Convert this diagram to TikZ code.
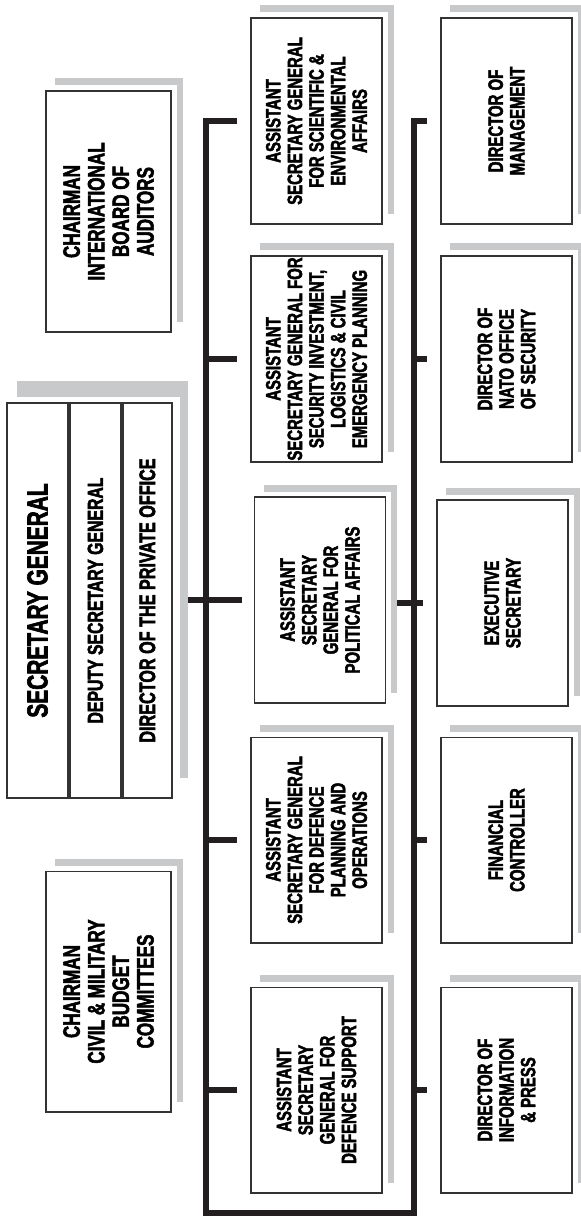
\documentclass[tikz,border=0pt]{standalone}
\usepackage{fontspec}
\newfontfamily\orgfont{Liberation Sans}[FakeStretch=0.72, UprightFont=*-Bold, FakeBold=2.2]
\definecolor{shadowgray}{HTML}{C8C9CA}
\definecolor{busblack}{HTML}{231F20}
\definecolor{boxline}{HTML}{333333}
% L-shaped grey shadow above and right of a (rotated) box
\newcommand{\boxshadow}[1]{%
  \fill[shadowbar] ([shift={(0.2cm,0.24cm)}]#1.north east) rectangle ([shift={(0.22cm,0.1cm)}]#1.south east);
  \fill[shadowbar] ([shift={(0.1cm,0.24cm)}]#1.south east) rectangle ([shift={(0.22cm,0.22cm)}]#1.south west);}
\begin{document}
\begin{tikzpicture}%
	[x=0.02cm, y=-0.02cm,
	bus/.style={color=busblack, line width=0.12cm},
	shadowbar/.style={fill=shadowgray},
	unit/.style={draw=boxline, line width=0.6pt, fill=white, rotate=90, inner sep=0pt, align=center,
		minimum width=4.12cm, minimum height=2.62cm, font=\orgfont\fontsize{11.8}{12.3}\selectfont},
	chair/.style={unit, minimum width=4.82cm, minimum height=2.5cm, font=\orgfont\fontsize{13.5}{14}\selectfont},
	sgpart/.style={draw=boxline, line width=1.1pt, fill=white, rotate=90, inner sep=0pt, align=center, minimum width=7.9cm}]
%
\useasboundingbox (0,0) rectangle (581,1217);
%%
%% Chairmen
%%
\node[chair] (chiba) at (108.5,211.5) {CHAIRMAN\\INTERNATIONAL\\BOARD OF\\AUDITORS};
\node[chair] (chcmb) at (108.5,991.5) {CHAIRMAN\\CIVIL \& MILITARY\\BUDGET\\COMMITTEES};
%%
%% Secretary General
%%
\node[sgpart, minimum height=1.22cm, font=\orgfont\fontsize{16.5}{17}\selectfont] (sg) at (37.5,600.5) {SECRETARY GENERAL};
\node[sgpart, minimum height=1.02cm, anchor=north, font=\orgfont\fontsize{12.5}{13}\selectfont] (sgdep) at (sg.south) {DEPUTY SECRETARY GENERAL};
\node[sgpart, minimum height=0.98cm, anchor=north, font=\orgfont\fontsize{12.8}{13}\selectfont] (sgpriv) at (sgdep.south) {DIRECTOR OF THE PRIVATE OFFICE};
%%
%% Assistant Secretaries General
%%
\node[unit] (asgsci) at (316.5,121) {ASSISTANT\\SECRETARY GENERAL\\FOR SCIENTIFIC \&\\ENVIRONMENTAL\\AFFAIRS};
\node[unit] (asgsec) at (316.5,359) {ASSISTANT\\SECRETARY GENERAL FOR\\SECURITY INVESTMENT,\\LOGISTICS \& CIVIL\\EMERGENCY PLANNING};
\node[unit] (asgpol) at (320,600) {ASSISTANT\\SECRETARY\\GENERAL FOR\\POLITICAL AFFAIRS};
\node[unit] (asgdpo) at (316.5,840) {ASSISTANT\\SECRETARY GENERAL\\FOR DEFENCE\\PLANNING AND\\OPERATIONS};
\node[unit] (asgdsu) at (316.5,1090) {ASSISTANT\\SECRETARY\\GENERAL FOR\\DEFENCE SUPPORT};
%%
%% Directors
%%
\node[unit] (dirman) at (506.5,121) {DIRECTOR OF\\MANAGEMENT};
\node[unit] (dirsec) at (506.5,359) {DIRECTOR OF\\NATO OFFICE\\OF SECURITY};
\node[unit] (direxe) at (502.5,603) {EXECUTIVE\\SECRETARY};
\node[unit] (dirfin) at (506.5,840) {FINANCIAL\\CONTROLLER};
\node[unit] (dirinf) at (506.5,1090) {DIRECTOR OF\\INFORMATION\\\& PRESS};
%%
%% Shadows
%%
\foreach \n in {chiba,chcmb,asgsci,asgsec,asgpol,asgdpo,asgdsu,dirman,dirsec,direxe,dirfin,dirinf}
	{\boxshadow{\n}}
\fill[shadowbar] ([shift={(0.22cm,0.42cm)}]sg.north east) rectangle ([shift={(0.3cm,0.1cm)}]sgpriv.south east);
\fill[shadowbar] ([shift={(0.14cm,0.42cm)}]sgpriv.south east) rectangle ([shift={(0.3cm,0.42cm)}]sgpriv.south west);
%%
%% Bus lines
%%
\coordinate (busL) at (206,0);
\coordinate (busR) at (414,0);
\coordinate (busB) at (0,1213);
\coordinate (sgs) at ([xshift=0.3cm]sgpriv.south);
\coordinate (polx) at ([xshift=0.22cm]asgpol.south);
\draw[bus] ([xshift=-0.26cm]asgsci.north) -- (busL |- asgsci.north) -- (busL |- busB)
	-- (busR |- busB) -- (busR |- dirman.north) -- ([xshift=-0.26cm]dirman.north);
\foreach \n in {asgsec,asgdpo,asgdsu}
	\draw[bus] (busL |- \n.north) -- ([xshift=-0.26cm]\n.north);
\foreach \n in {dirsec,dirfin,dirinf}
	\draw[bus] (busR |- \n.north) -- ([xshift=-0.26cm]\n.north);
\draw[bus] (sgs |- asgpol.north) -- ([xshift=-0.24cm]asgpol.north);
\draw[bus] (polx |- direxe.north) -- ([xshift=-0.26cm]direxe.north);
\end{tikzpicture}
\end{document}
